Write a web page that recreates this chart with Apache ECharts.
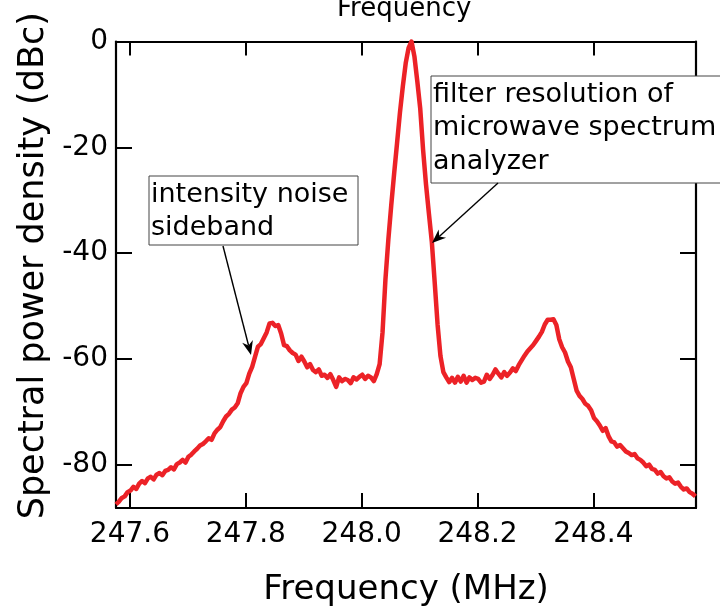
<!DOCTYPE html>
<html>
<head>
<meta charset="utf-8">
<script src="https://cdn.jsdelivr.net/npm/echarts@6/dist/echarts.min.js"></script>
<style>
  html, body { margin: 0; padding: 0; background: #fff; }
  #chart { width: 720px; height: 608px; }
</style>
</head>
<body>
<div id="chart"></div>
<script>
// spectrum sampled every 5 kHz starting at the left edge of the plot
var freqStart = 247.576;
var freqStep = 0.005;
// spectral power density (dBc)
var powerDbc = [
  -87.5, -87.0, -86.3, -86.0, -85.2, -84.9, -84.2, -84.6, -83.6, -83.1,
  -83.5, -82.6, -82.3, -82.8, -81.9, -81.6, -82.0, -81.2, -81.0, -80.5,
  -80.9, -79.9, -79.6, -79.1, -79.6, -78.5, -78.1, -77.5, -77.0, -76.4,
  -76.1, -75.6, -75.0, -75.3, -74.1, -73.4, -72.9, -71.8, -70.9, -70.4,
  -69.6, -69.2, -68.4, -66.5, -65.3, -64.6, -62.8, -61.5, -59.6, -57.7,
  -57.2, -56.1, -55.0, -53.3, -53.2, -53.8, -53.6, -55.2, -57.4, -57.6,
  -58.4, -58.9, -59.2, -60.4, -59.6, -60.5, -61.6, -61.0, -62.1, -62.5,
  -62.0, -63.2, -63.0, -63.6, -62.9, -64.0, -65.3, -63.5, -64.2, -63.8,
  -64.0, -64.6, -63.5, -63.9, -63.4, -63.0, -63.8, -63.2, -63.5, -64.2,
  -62.9, -61.0, -55.0, -45.0, -37.5, -31.0, -25.0, -19.3, -13.5, -8.5,
  -4.1, -1.2, 0.0, -2.8, -7.5, -12.6, -20.5, -27.0, -32.5, -37.8,
  -45.5, -53.5, -59.5, -62.5, -63.5, -64.4, -63.6, -64.5, -63.4, -64.3,
  -63.2, -64.5, -63.5, -64.0, -63.6, -63.8, -64.5, -64.3, -63.0, -63.8,
  -63.0, -62.0, -62.8, -63.5, -62.5, -63.2, -62.6, -61.8, -62.3, -61.2,
  -60.3, -59.4, -58.6, -58.0, -57.4, -56.6, -55.8, -54.9, -53.5, -52.6,
  -52.6, -52.5, -53.6, -56.3, -57.8, -58.8, -60.5, -61.6, -63.8, -66.0,
  -67.0, -67.6, -68.5, -68.9, -69.7, -71.2, -71.8, -72.6, -73.6, -73.1,
  -74.6, -75.6, -75.8, -76.6, -76.3, -76.9, -77.5, -77.8, -78.2, -78.0,
  -78.8, -79.1, -79.6, -80.3, -80.0, -80.8, -81.0, -81.7, -81.4, -82.2,
  -82.6, -82.4, -83.2, -83.6, -83.4, -84.2, -84.7, -84.5, -85.2, -85.5,
  -86.0
];
var freqTicks = [247.6, 247.8, 248.0, 248.2, 248.4];
var dbcTicks = [-80, -60, -40, -20, 0];
var noiseNote = 'intensity noise\nsideband';
var filterNote = 'filter resolution of\nmicrowave spectrum\nanalyzer';

var FONT = '"DejaVu Sans", Verdana, sans-serif';
var RED = '#ec2227';

var chart = echarts.init(document.getElementById('chart'));

var points = powerDbc.map(function (v, i) {
    return [freqStart + i * freqStep, v];
});

// little arrow: line from tail up to the head, plus a notched head
function arrow(x1, y1, x2, y2) {
    var dx = x2 - x1, dy = y2 - y1;
    var len = Math.sqrt(dx * dx + dy * dy);
    var ux = dx / len, uy = dy / len;
    var L = 14, W = 5.5;
    var bx = x2 - ux * L, by = y2 - uy * L;
    var nx = -uy, ny = ux;
    var mx = x2 - ux * L * 0.7, my = y2 - uy * L * 0.7;
    return [{
        type: 'line', z: 100,
        shape: { x1: x1, y1: y1, x2: mx, y2: my },
        style: { stroke: '#000', lineWidth: 1.4 }
    }, {
        type: 'polygon', z: 100,
        shape: { points: [[x2, y2], [bx + nx * W, by + ny * W], [mx, my], [bx - nx * W, by - ny * W]] },
        style: { fill: '#000' }
    }];
}

function noteBox(x, y, w, h, text) {
    return [{
        type: 'rect', z: 100,
        shape: { x: x, y: y, width: w, height: h },
        style: { fill: '#fff', stroke: '#444', lineWidth: 1 }
    }, {
        type: 'text', z: 101,
        x: x + 2, y: y + 2,
        style: { text: text, fill: '#000', font: '27px ' + FONT, lineHeight: 33.5, textVerticalAlign: 'top' }
    }];
}

var option = {
    animation: false,
    backgroundColor: '#fff',
    title: {
        text: 'Frequency',
        left: 337,
        top: -4,
        padding: 0,
        textStyle: { fontSize: 26, fontWeight: 'normal', color: '#000', fontFamily: FONT }
    },
    grid: { left: 116, right: 24, top: 41.5, bottom: 100, containLabel: false, outerBoundsMode: 'none' },
    xAxis: [{
        type: 'value',
        min: 247.576,
        max: 248.577,
        name: 'Frequency (MHz)',
        nameLocation: 'middle',
        nameGap: 65,
        nameTextStyle: { fontSize: 34, color: '#000', fontFamily: FONT },
        axisLine: { show: true, onZero: false, lineStyle: { color: '#000', width: 2.2 } },
        axisTick: { show: true, inside: true, length: 15, customValues: freqTicks, lineStyle: { color: '#000', width: 2 } },
        axisLabel: {
            customValues: freqTicks, margin: 13, fontSize: 28, color: '#000', fontFamily: FONT,
            formatter: function (v) { return v.toFixed(1); }
        },
        splitLine: { show: false }
    }, {
        type: 'value',
        position: 'top',
        min: 247.576,
        max: 248.577,
        axisLine: { show: true, onZero: false, lineStyle: { color: '#000', width: 2.2 } },
        axisTick: { show: true, inside: true, length: 14, customValues: freqTicks, lineStyle: { color: '#000', width: 2 } },
        axisLabel: { show: false },
        splitLine: { show: false }
    }],
    yAxis: [{
        type: 'value',
        min: -88.2,
        max: 0,
        name: 'Spectral power density (dBc)',
        nameLocation: 'middle',
        nameGap: 60,
        nameTextStyle: { fontSize: 35, color: '#000', fontFamily: FONT, padding: [0, 0, 0, 18] },
        axisLine: { show: true, onZero: false, lineStyle: { color: '#000', width: 2.2 } },
        axisTick: { show: true, inside: true, length: 16, customValues: dbcTicks, lineStyle: { color: '#000', width: 2 } },
        axisLabel: {
            customValues: dbcTicks, margin: 8, fontSize: 28, color: '#000', fontFamily: FONT
        },
        splitLine: { show: false }
    }, {
        type: 'value',
        position: 'right',
        min: -88.2,
        max: 0,
        axisLine: { show: true, onZero: false, lineStyle: { color: '#000', width: 2.2 } },
        axisTick: { show: true, inside: true, length: 16, customValues: dbcTicks, lineStyle: { color: '#000', width: 2 } },
        axisLabel: { show: false },
        splitLine: { show: false }
    }],
    series: [{
        type: 'line',
        xAxisIndex: 0,
        yAxisIndex: 0,
        data: points,
        showSymbol: false,
        clip: false,
        lineStyle: { color: RED, width: 4.5, join: 'round' },
        z: 3
    }],
    graphic: []
        .concat(noteBox(149, 176, 209, 69, noiseNote))
        .concat(arrow(223, 246, 251, 355))
        .concat(noteBox(431, 76, 300, 107, filterNote))
        .concat(arrow(498, 183, 432, 243))
};

chart.setOption(option);
</script>
</body>
</html>
